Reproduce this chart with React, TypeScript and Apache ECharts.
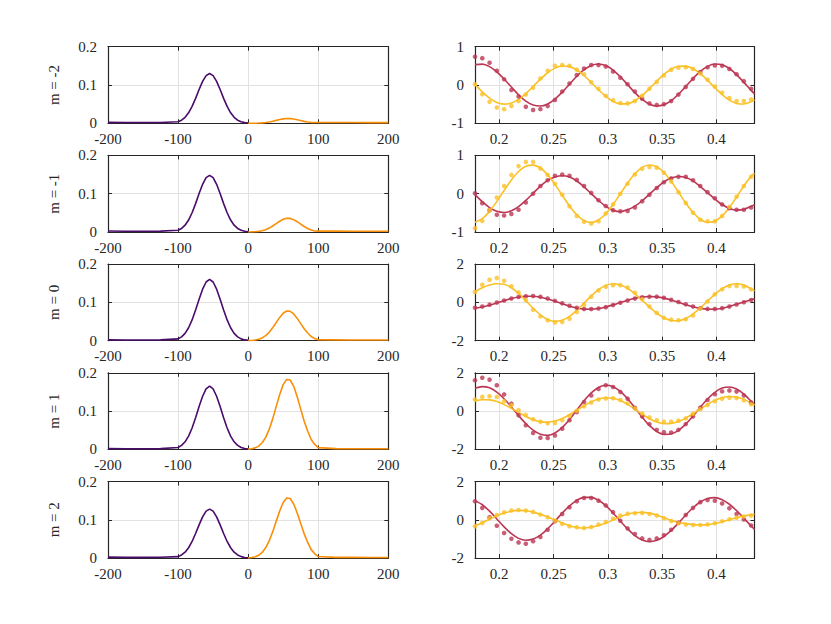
import React, { useEffect, useRef } from "react";
import * as echarts from "echarts";

// ---------- data ----------
const M_LABELS = ["m = -2", "m = -1", "m = 0", "m = 1", "m = 2"];

const PURPLE_X = [-200, -175, -150, -125, -100, -95, -90, -85, -80, -75, -70, -65, -60, -55, -50, -45, -40, -35, -30, -25, -20, -15, -10, -5, 0];
const ORANGE_X = [0, 5, 10, 15, 20, 25, 30, 35, 40, 45, 50, 55, 60, 65, 70, 75, 80, 85, 90, 95, 100, 125, 150, 175, 200];

const PURPLE_N2 = [0.0025, 0.002, 0.002, 0.0022, 0.0039, 0.0082, 0.0156, 0.0274, 0.0441, 0.0651, 0.0881, 0.1093, 0.1245, 0.13, 0.1245, 0.1093, 0.0881, 0.0651, 0.0441, 0.0274, 0.0156, 0.0082, 0.0039, 0.0017, 0.0007];
const PURPLE_N1 = [0.0025, 0.002, 0.002, 0.0022, 0.0044, 0.0093, 0.0178, 0.0312, 0.0502, 0.0741, 0.1003, 0.1245, 0.1418, 0.148, 0.1418, 0.1245, 0.1003, 0.0741, 0.0502, 0.0312, 0.0178, 0.0093, 0.0044, 0.0019, 0.0007];
const PURPLE_0 = [0.0025, 0.002, 0.002, 0.0022, 0.0048, 0.0101, 0.0192, 0.0338, 0.0542, 0.0802, 0.1085, 0.1346, 0.1533, 0.16, 0.1533, 0.1346, 0.1085, 0.0802, 0.0542, 0.0338, 0.0192, 0.0101, 0.0048, 0.0021, 0.0008];
const PURPLE_P1 = [0.0022, 0.0018, 0.0018, 0.002, 0.005, 0.0104, 0.0198, 0.0348, 0.0559, 0.0827, 0.1119, 0.1388, 0.1581, 0.165, 0.1581, 0.1388, 0.1119, 0.0827, 0.0559, 0.0348, 0.0198, 0.0104, 0.005, 0.0021, 0.0008];
const PURPLE_P2 = [0.0025, 0.002, 0.002, 0.0022, 0.0038, 0.0081, 0.0154, 0.027, 0.0434, 0.0641, 0.0868, 0.1076, 0.1226, 0.128, 0.1226, 0.1076, 0.0868, 0.0641, 0.0434, 0.027, 0.0154, 0.0081, 0.0038, 0.0017, 0.0006];

const ORANGE_N2 = [0.0001, 0.0001, 0.0003, 0.0006, 0.0012, 0.0021, 0.0035, 0.0054, 0.0076, 0.0097, 0.0115, 0.0124, 0.0123, 0.0112, 0.0093, 0.0071, 0.005, 0.0032, 0.0025, 0.0022, 0.0022, 0.0022, 0.002, 0.0018, 0.0018];
const ORANGE_N1 = [0.0001, 0.0003, 0.0008, 0.0017, 0.0034, 0.0061, 0.0102, 0.0156, 0.0219, 0.028, 0.0331, 0.0357, 0.0355, 0.0322, 0.0269, 0.0206, 0.0144, 0.0093, 0.005, 0.0027, 0.0022, 0.0022, 0.002, 0.0018, 0.0018];
const ORANGE_0 = [0.0003, 0.0007, 0.0017, 0.0037, 0.0073, 0.0133, 0.0221, 0.0338, 0.0473, 0.0608, 0.0717, 0.0775, 0.0768, 0.0698, 0.0582, 0.0445, 0.0312, 0.0201, 0.0109, 0.0055, 0.0025, 0.0022, 0.002, 0.0018, 0.0018];
const ORANGE_P1 = [0.0007, 0.0017, 0.004, 0.0086, 0.0173, 0.0313, 0.0521, 0.0797, 0.1117, 0.1433, 0.1691, 0.1827, 0.1812, 0.1647, 0.1373, 0.1051, 0.0736, 0.0475, 0.0258, 0.0129, 0.0046, 0.002, 0.0018, 0.0016, 0.0016];
const ORANGE_P2 = [0.0006, 0.0014, 0.0035, 0.0074, 0.0149, 0.0269, 0.0447, 0.0684, 0.0959, 0.1231, 0.1452, 0.1569, 0.1556, 0.1414, 0.1179, 0.0902, 0.0632, 0.0408, 0.0221, 0.0111, 0.004, 0.002, 0.0018, 0.0016, 0.0016];

const DOT_X = [0.1777, 0.1844, 0.1911, 0.1978, 0.2045, 0.2112, 0.2178, 0.2245, 0.2312, 0.2379, 0.2446, 0.2513, 0.258, 0.2647, 0.2714, 0.2781, 0.2847, 0.2914, 0.2981, 0.3048, 0.3115, 0.3182, 0.3249, 0.3316, 0.3383, 0.345, 0.3516, 0.3583, 0.365, 0.3717, 0.3784, 0.3851, 0.3918, 0.3985, 0.4052, 0.4119, 0.4185, 0.4252, 0.4319];
const LINE_X = [...DOT_X, 0.435];
const RIGHT_X_TICKS = [0.2, 0.25, 0.3, 0.35, 0.4];

const RED_LINE_N2 = [0.531, 0.546, 0.48, 0.343, 0.156, -0.054, -0.256, -0.42, -0.523, -0.549, -0.494, -0.367, -0.185, 0.023, 0.228, 0.4, 0.512, 0.55, 0.507, 0.389, 0.214, 0.008, -0.2, -0.378, -0.5, -0.549, -0.518, -0.41, -0.242, -0.038, 0.171, 0.355, 0.487, 0.547, 0.527, 0.43, 0.269, 0.069, -0.141, -0.23];
const RED_DOTS_N2 = [0.74, 0.7, 0.58, 0.37, 0.15, -0.13, -0.3, -0.57, -0.65, -0.63, -0.55, -0.39, -0.17, 0.04, 0.26, 0.43, 0.52, 0.52, 0.48, 0.35, 0.19, 0.02, -0.17, -0.36, -0.48, -0.52, -0.5, -0.42, -0.25, -0.05, 0.16, 0.34, 0.46, 0.51, 0.5, 0.42, 0.28, 0.1, -0.1];
const YEL_LINE_N2 = [0.01, -0.178, -0.341, -0.454, -0.499, -0.472, -0.375, -0.223, -0.038, 0.152, 0.32, 0.441, 0.497, 0.48, 0.393, 0.248, 0.066, -0.125, -0.298, -0.427, -0.494, -0.487, -0.41, -0.272, -0.094, 0.098, 0.275, 0.412, 0.488, 0.493, 0.425, 0.295, 0.121, -0.07, -0.251, -0.396, -0.482, -0.497, -0.439, -0.39];
const YEL_DOTS_N2 = [0.02, -0.24, -0.44, -0.59, -0.63, -0.55, -0.42, -0.25, -0.07, 0.17, 0.37, 0.5, 0.52, 0.5, 0.4, 0.28, 0.07, -0.1, -0.28, -0.4, -0.47, -0.48, -0.42, -0.28, -0.1, 0.08, 0.25, 0.4, 0.45, 0.46, 0.42, 0.3, 0.14, -0.04, -0.2, -0.34, -0.42, -0.42, -0.38];

const RED_LINE_N1 = [-0.025, -0.209, -0.362, -0.46, -0.49, -0.446, -0.336, -0.175, 0.012, 0.197, 0.352, 0.437, 0.47, 0.433, 0.331, 0.18, 0.001, -0.177, -0.329, -0.431, -0.47, -0.419, -0.326, -0.184, -0.014, 0.158, 0.306, 0.408, 0.45, 0.424, 0.334, 0.187, 0.025, -0.139, -0.283, -0.385, -0.429, -0.409, -0.328, -0.29];
const RED_DOTS_N1 = [0.01, -0.25, -0.43, -0.55, -0.57, -0.53, -0.42, -0.23, 0.0, 0.2, 0.35, 0.47, 0.5, 0.47, 0.36, 0.2, 0.02, -0.17, -0.32, -0.43, -0.46, -0.45, -0.36, -0.2, -0.03, 0.15, 0.3, 0.4, 0.44, 0.44, 0.35, 0.2, 0.04, -0.12, -0.28, -0.38, -0.42, -0.42, -0.36];
const YEL_LINE_N1 = [-0.743, -0.65, -0.461, -0.204, 0.082, 0.357, 0.579, 0.715, 0.747, 0.67, 0.494, 0.244, -0.041, -0.319, -0.551, -0.702, -0.75, -0.687, -0.523, -0.283, -0.001, 0.281, 0.522, 0.686, 0.75, 0.703, 0.553, 0.322, 0.043, -0.242, -0.491, -0.668, -0.747, -0.717, -0.581, -0.359, -0.085, 0.202, 0.459, 0.53];
const YEL_DOTS_N1 = [-0.9, -0.71, -0.43, -0.1, 0.2, 0.49, 0.72, 0.83, 0.83, 0.66, 0.49, 0.26, -0.03, -0.33, -0.58, -0.73, -0.78, -0.72, -0.52, -0.28, 0.0, 0.26, 0.5, 0.65, 0.7, 0.68, 0.55, 0.32, 0.04, -0.24, -0.5, -0.68, -0.72, -0.72, -0.58, -0.35, -0.08, 0.2, 0.44];

const RED_LINE_0 = [-0.303, -0.243, -0.148, -0.031, 0.091, 0.201, 0.282, 0.325, 0.322, 0.271, 0.178, 0.057, -0.074, -0.196, -0.293, -0.349, -0.357, -0.319, -0.24, -0.13, -0.006, 0.115, 0.217, 0.285, 0.31, 0.288, 0.224, 0.124, 0.003, -0.121, -0.232, -0.314, -0.356, -0.352, -0.301, -0.213, -0.1, 0.026, 0.144, 0.19];
const RED_DOTS_0 = [-0.28, -0.22, -0.12, -0.01, 0.1, 0.2, 0.28, 0.32, 0.33, 0.29, 0.2, 0.08, -0.05, -0.18, -0.28, -0.34, -0.35, -0.32, -0.25, -0.14, -0.02, 0.1, 0.2, 0.27, 0.3, 0.3, 0.24, 0.14, 0.02, -0.1, -0.22, -0.3, -0.34, -0.34, -0.3, -0.22, -0.11, 0.01, 0.12];
const YEL_LINE_0 = [0.55, 0.76, 0.91, 0.975, 0.944, 0.764, 0.467, 0.09, -0.303, -0.646, -0.888, -0.989, -0.932, -0.731, -0.417, -0.039, 0.338, 0.666, 0.889, 0.97, 0.91, 0.729, 0.451, 0.113, -0.238, -0.559, -0.803, -0.945, -0.961, -0.844, -0.609, -0.29, 0.071, 0.421, 0.712, 0.904, 0.97, 0.902, 0.708, 0.6];
const YEL_DOTS_0 = [0.54, 0.92, 1.18, 1.27, 1.13, 0.84, 0.52, 0.12, -0.38, -0.73, -0.93, -1.05, -1.02, -0.85, -0.5, -0.12, 0.3, 0.62, 0.82, 0.9, 0.9, 0.78, 0.5, 0.16, -0.22, -0.55, -0.8, -0.9, -0.93, -0.88, -0.68, -0.32, 0.05, 0.42, 0.68, 0.85, 0.86, 0.83, 0.68];

const RED_LINE_P1 = [1.19, 1.28, 1.213, 0.992, 0.645, 0.215, -0.234, -0.658, -0.998, -1.211, -1.267, -1.147, -0.853, -0.434, 0.056, 0.542, 0.95, 1.236, 1.349, 1.275, 1.028, 0.64, 0.17, -0.317, -0.749, -1.065, -1.218, -1.195, -1.006, -0.68, -0.259, 0.202, 0.634, 0.982, 1.201, 1.258, 1.151, 0.892, 0.518, 0.32];
const RED_DOTS_P1 = [1.61, 1.74, 1.64, 1.35, 0.87, 0.39, -0.22, -0.74, -1.14, -1.39, -1.4, -1.27, -0.92, -0.48, -0.05, 0.47, 0.82, 1.16, 1.35, 1.26, 1.0, 0.65, 0.17, -0.28, -0.68, -0.98, -1.1, -1.12, -0.98, -0.68, -0.28, 0.18, 0.58, 0.88, 1.03, 1.08, 1.02, 0.82, 0.45];
const YEL_LINE_P1 = [0.53, 0.594, 0.585, 0.497, 0.343, 0.143, -0.071, -0.279, -0.446, -0.551, -0.579, -0.522, -0.385, -0.187, 0.045, 0.28, 0.482, 0.628, 0.696, 0.674, 0.554, 0.353, 0.103, -0.159, -0.396, -0.569, -0.653, -0.642, -0.541, -0.367, -0.141, 0.11, 0.353, 0.559, 0.7, 0.759, 0.729, 0.612, 0.423, 0.32];
const YEL_DOTS_P1 = [0.6, 0.74, 0.77, 0.74, 0.52, 0.3, 0.05, -0.2, -0.42, -0.56, -0.64, -0.62, -0.48, -0.25, 0.02, 0.25, 0.45, 0.6, 0.66, 0.67, 0.58, 0.4, 0.14, -0.12, -0.33, -0.48, -0.55, -0.55, -0.5, -0.38, -0.14, 0.1, 0.32, 0.52, 0.65, 0.7, 0.68, 0.56, 0.36];

const RED_LINE_P2 = [1.0, 0.786, 0.452, 0.045, -0.369, -0.726, -0.97, -1.069, -1.007, -0.798, -0.47, -0.07, 0.35, 0.729, 1.015, 1.17, 1.172, 1.021, 0.739, 0.359, -0.065, -0.477, -0.822, -1.053, -1.14, -1.074, -0.873, -0.556, -0.166, 0.247, 0.63, 0.932, 1.115, 1.157, 1.05, 0.812, 0.477, 0.08, -0.325, -0.5];
const RED_DOTS_P2 = [0.97, 0.62, 0.13, -0.31, -0.69, -0.99, -1.18, -1.25, -1.12, -0.9, -0.52, -0.08, 0.3, 0.65, 0.97, 1.14, 1.14, 1.0, 0.75, 0.4, -0.05, -0.45, -0.74, -0.97, -1.05, -0.97, -0.8, -0.52, -0.15, 0.25, 0.62, 0.92, 1.03, 1.0, 0.85, 0.6, 0.3, 0.02, -0.3];
const YEL_LINE_P2 = [-0.31, -0.15, 0.03, 0.21, 0.35, 0.45, 0.49, 0.47, 0.4, 0.29, 0.15, 0.0, -0.17, -0.31, -0.4, -0.43, -0.39, -0.3, -0.17, -0.01, 0.16, 0.29, 0.37, 0.39, 0.35, 0.25, 0.11, -0.03, -0.13, -0.2, -0.25, -0.27, -0.25, -0.19, -0.1, 0.0, 0.11, 0.2, 0.27, 0.29];
const YEL_DOTS_P2 = [-0.34, -0.17, 0.08, 0.25, 0.39, 0.48, 0.51, 0.48, 0.41, 0.27, 0.13, -0.05, -0.22, -0.34, -0.39, -0.43, -0.38, -0.25, -0.11, 0.06, 0.22, 0.32, 0.34, 0.36, 0.3, 0.22, 0.08, -0.06, -0.18, -0.25, -0.27, -0.27, -0.24, -0.18, -0.08, 0.03, 0.11, 0.17, 0.22];

const RIGHT_Y_MAX = [1, 1, 2, 2, 2];

const PANELS = [
  { purple: PURPLE_N2, orange: ORANGE_N2, redLine: RED_LINE_N2, redDots: RED_DOTS_N2, yelLine: YEL_LINE_N2, yelDots: YEL_DOTS_N2 },
  { purple: PURPLE_N1, orange: ORANGE_N1, redLine: RED_LINE_N1, redDots: RED_DOTS_N1, yelLine: YEL_LINE_N1, yelDots: YEL_DOTS_N1 },
  { purple: PURPLE_0, orange: ORANGE_0, redLine: RED_LINE_0, redDots: RED_DOTS_0, yelLine: YEL_LINE_0, yelDots: YEL_DOTS_0 },
  { purple: PURPLE_P1, orange: ORANGE_P1, redLine: RED_LINE_P1, redDots: RED_DOTS_P1, yelLine: YEL_LINE_P1, yelDots: YEL_DOTS_P1 },
  { purple: PURPLE_P2, orange: ORANGE_P2, redLine: RED_LINE_P2, redDots: RED_DOTS_P2, yelLine: YEL_LINE_P2, yelDots: YEL_DOTS_P2 },
];

// ---------- styles / layout ----------
const AX = "#262626";
const GRIDC = "#e2e2e2";
const FONT = "Liberation Serif, serif";
const C_PURPLE = "#4a0c6b";
const C_ORANGE = "#f98e09";
const C_RED = "#bc3754";
const C_YEL = "#fac127";

const TOP0 = 46.7;
const PITCH = 108.7;
const H = 76.6;
const LEFT_L = 108;
const LEFT_W = 280.3;
const RIGHT_L = 475;
const RIGHT_W = 279.5;

function pairs(xs: number[], ys: number[]) {
  const n = Math.min(xs.length, ys.length);
  const out: number[][] = [];
  for (let i = 0; i < n; i++) out.push([xs[i], ys[i]]);
  return out;
}

function buildOption() {
  const grid: any[] = [];
  const xAxis: any[] = [];
  const yAxis: any[] = [];
  const series: any[] = [];

  const line = { show: true, onZero: false, lineStyle: { color: AX, width: 1.2 } };
  const tick = { show: true, inside: true, length: 4, lineStyle: { color: AX, width: 1 } };
  const label = { show: true, color: AX, fontFamily: FONT, fontSize: 15 };
  const split = { show: true, lineStyle: { color: GRIDC, width: 1 } };
  const noSplit = { show: false };
  const noLabel = { show: false };

  const addGrid = (left: number, width: number, top: number) => {
    const g = grid.length;
    grid.push({ left, top, width, height: H, show: false });
    return g;
  };

  PANELS.forEach((p, r) => {
    const top = TOP0 + r * PITCH;
    // left panel
    const gl = addGrid(LEFT_L, LEFT_W, top);
    const lx = { gridIndex: gl, type: "value", min: -200, max: 200, interval: 100, axisLine: line, axisTick: tick };
    const ly = { gridIndex: gl, type: "value", min: 0, max: 0.2, interval: 0.1, axisLine: line, axisTick: tick };
    xAxis.push({ ...lx, position: "bottom", axisLabel: { ...label, margin: 8 }, splitLine: split });
    xAxis.push({ ...lx, position: "top", axisLabel: noLabel, splitLine: noSplit });
    yAxis.push({ ...ly, position: "left", axisLabel: { ...label, margin: 11 }, splitLine: split });
    yAxis.push({ ...ly, position: "right", axisLabel: noLabel, splitLine: noSplit });
    series.push({ type: "line", xAxisIndex: 2 * gl, yAxisIndex: 2 * gl, data: pairs(PURPLE_X, p.purple), symbol: "none",
      lineStyle: { color: C_PURPLE, width: 1.6 }, silent: true, z: 2 });
    series.push({ type: "line", xAxisIndex: 2 * gl, yAxisIndex: 2 * gl, data: pairs(ORANGE_X, p.orange), symbol: "none",
      lineStyle: { color: C_ORANGE, width: 1.6 }, silent: true, z: 3 });

    // right panel
    const gr = addGrid(RIGHT_L, RIGHT_W, top);
    const ym = RIGHT_Y_MAX[r];
    const rx = { gridIndex: gr, type: "value", min: 0.1777, max: 0.435, axisLine: line,
      axisTick: { ...tick, customValues: RIGHT_X_TICKS } };
    const ry = { gridIndex: gr, type: "value", min: -ym, max: ym, interval: ym, axisLine: line, axisTick: tick };
    xAxis.push({ ...rx, position: "bottom", axisLabel: { ...label, margin: 8, customValues: RIGHT_X_TICKS }, splitLine: split });
    xAxis.push({ ...rx, position: "top", axisLabel: noLabel, splitLine: noSplit });
    yAxis.push({ ...ry, position: "left", axisLabel: { ...label, margin: 11 }, splitLine: split });
    yAxis.push({ ...ry, position: "right", axisLabel: noLabel, splitLine: noSplit });
    series.push({ type: "line", xAxisIndex: 2 * gr, yAxisIndex: 2 * gr, data: pairs(LINE_X, p.redLine), symbol: "none", smooth: 0.3,
      lineStyle: { color: C_RED, width: 1.6 }, silent: true, z: 2 });
    series.push({ type: "line", xAxisIndex: 2 * gr, yAxisIndex: 2 * gr, data: pairs(LINE_X, p.yelLine), symbol: "none", smooth: 0.3,
      lineStyle: { color: C_YEL, width: 1.6 }, silent: true, z: 2 });
    series.push({ type: "scatter", xAxisIndex: 2 * gr, yAxisIndex: 2 * gr, data: pairs(DOT_X, p.redDots), symbol: "circle", symbolSize: 4.6,
      itemStyle: { color: C_RED }, silent: true, z: 3 });
    series.push({ type: "scatter", xAxisIndex: 2 * gr, yAxisIndex: 2 * gr, data: pairs(DOT_X, p.yelDots), symbol: "circle", symbolSize: 4.6,
      itemStyle: { color: C_YEL }, silent: true, z: 3 });
  });

  const graphic = M_LABELS.map((t, r) => ({
    type: "text",
    x: 53.5,
    y: TOP0 + r * PITCH + H / 2,
    rotation: Math.PI / 2,
    silent: true,
    style: { text: t, fill: AX, fontFamily: FONT, fontSize: 15, align: "center", verticalAlign: "middle" },
  }));

  return {
    animation: false,
    backgroundColor: "#ffffff",
    grid,
    xAxis,
    yAxis,
    series,
    graphic,
  };
}

export default function App() {
  const ref = useRef<HTMLDivElement>(null);
  useEffect(() => {
    if (!ref.current) return;
    const chart = echarts.init(ref.current, undefined, { renderer: "svg" });
    chart.setOption(buildOption() as any);
    return () => chart.dispose();
  }, []);
  return (
    <div
      ref={ref}
      style={{ position: "fixed", left: 0, top: 0, width: 831, height: 624, background: "#fff" }}
    />
  );
}
